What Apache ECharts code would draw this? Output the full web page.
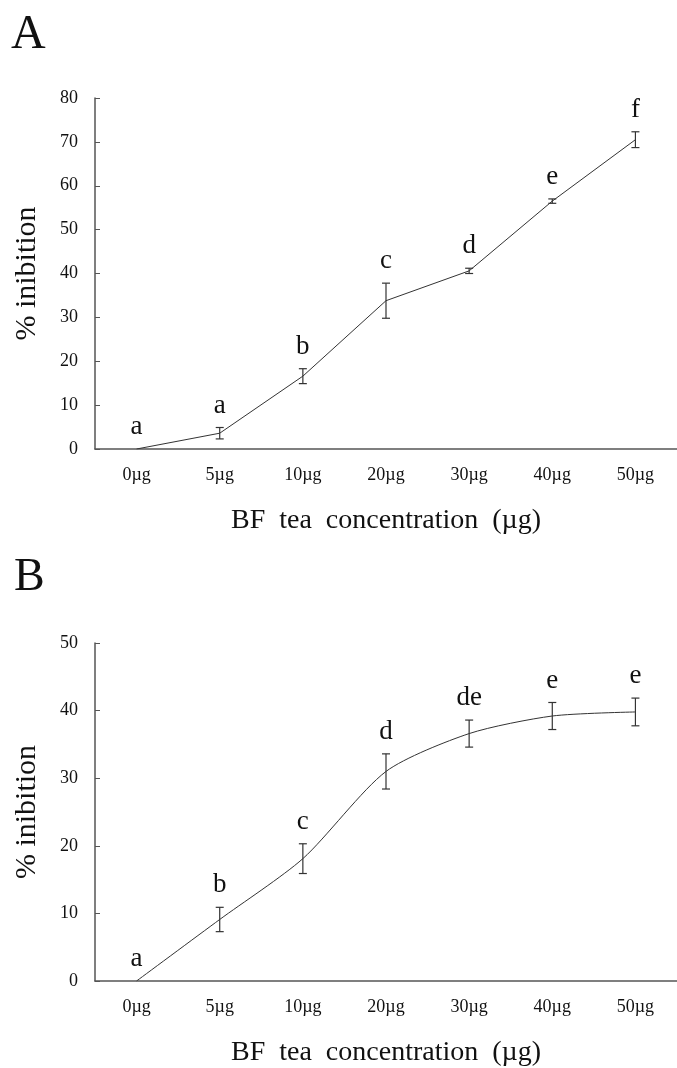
<!DOCTYPE html>
<html>
<head>
<meta charset="utf-8">
<script src="https://cdn.jsdelivr.net/npm/echarts@6/dist/echarts.min.js"></script>
<style>
  html, body { margin: 0; padding: 0; background: #fff; }
  #chart { width: 677px; height: 1068px; }
</style>
</head>
<body>
<div id="chart"></div>
<script>
const categories = ['0µg', '5µg', '10µg', '20µg', '30µg', '40µg', '50µg']

// panel A
const valuesA = [0, 3.6, 16.6, 33.8, 40.6, 56.5, 70.5]
const errA = [0, 1.3, 1.7, 4.0, 0.6, 0.5, 1.8]
const lettersA = ['a', 'a', 'b', 'c', 'd', 'e', 'f']

// panel B
const valuesB = [0, 9.1, 18.1, 31.0, 36.6, 39.2, 39.8]
const errB = [0, 1.8, 2.2, 2.6, 2.0, 2.0, 2.05]
const lettersB = ['a', 'b', 'c', 'd', 'de', 'e', 'e']

const font = '"Liberation Serif", "Times New Roman", serif'
const axisColor = '#555'

const chart = echarts.init(document.getElementById('chart'))

function errorSeries(idx, values, err, letters) {
    return {
        type: 'custom',
        xAxisIndex: idx,
        yAxisIndex: idx,
        z: 5,
        data: values.map((v, i) => [i, v, err[i]]),
        renderItem: (params, api) => {
            const i = api.value(0)
            const v = api.value(1)
            const e = api.value(2)
            const top = api.coord([i, v + e])
            const bot = api.coord([i, v - e])
            const children = []
            if (e > 0) {
                children.push(
                    { type: 'line', shape: { x1: top[0], y1: top[1], x2: bot[0], y2: bot[1] }, style: { stroke: '#333', lineWidth: 1.2 } },
                    { type: 'line', shape: { x1: top[0] - 4, y1: top[1], x2: top[0] + 4, y2: top[1] }, style: { stroke: '#333', lineWidth: 1.2 } },
                    { type: 'line', shape: { x1: bot[0] - 4, y1: bot[1], x2: bot[0] + 4, y2: bot[1] }, style: { stroke: '#333', lineWidth: 1.2 } }
                )
            }
            children.push({
                type: 'text',
                x: top[0],
                y: top[1] - 22,
                style: {
                    text: letters[params.dataIndex],
                    fill: '#111',
                    font: '27px ' + font,
                    align: 'center',
                    verticalAlign: 'middle'
                }
            })
            return { type: 'group', children }
        }
    }
}

function xAxisFor(idx) {
    return {
        type: 'category',
        gridIndex: idx,
        data: categories,
        name: 'BF  tea  concentration  (µg)',
        nameLocation: 'middle',
        nameGap: 58,
        nameTextStyle: { fontFamily: font, fontSize: 28, color: '#111' },
        axisLine: { lineStyle: { color: axisColor, width: 1.5 } },
        axisTick: { inside: true, alignWithLabel: true, length: 7, lineStyle: { color: axisColor } },
        axisLabel: { fontFamily: font, fontSize: 18, color: '#111', margin: 17 },
        splitLine: { show: false }
    }
}

function yAxisFor(idx, max) {
    return {
        type: 'value',
        gridIndex: idx,
        min: 0,
        max: max,
        interval: 10,
        name: '% inibition',
        nameLocation: 'middle',
        nameGap: 53,
        nameTextStyle: { fontFamily: font, fontSize: 30, color: '#111' },
        axisLine: { show: true, lineStyle: { color: axisColor, width: 1.5 } },
        axisTick: { show: true, inside: true, length: 5, lineStyle: { color: axisColor } },
        axisLabel: { fontFamily: font, fontSize: 18, color: '#111', margin: 17 },
        splitLine: { show: false }
    }
}

chart.setOption({
    animation: false,
    backgroundColor: '#fff',
    title: [
        { text: 'A', left: 6, top: 6, textStyle: { fontFamily: font, fontSize: 48, fontWeight: 'normal', color: '#111' } },
        { text: 'B', left: 9, top: 550, textStyle: { fontFamily: font, fontSize: 46, fontWeight: 'normal', color: '#111' } }
    ],
    grid: [
        { left: 95, top: 98, width: 586, height: 351 },
        { left: 95, top: 643, width: 593, height: 339 }
    ],
    xAxis: [xAxisFor(0), xAxisFor(1)],
    yAxis: [yAxisFor(0, 80), yAxisFor(1, 50)],
    series: [
        {
            type: 'line',
            xAxisIndex: 0,
            yAxisIndex: 0,
            data: valuesA,
            symbol: 'none',
            lineStyle: { color: '#333', width: 1 }
        },
        errorSeries(0, valuesA, errA, lettersA),
        {
            type: 'line',
            xAxisIndex: 1,
            yAxisIndex: 1,
            data: valuesB,
            symbol: 'none',
            smooth: 0.25,
            lineStyle: { color: '#333', width: 1 }
        },
        errorSeries(1, valuesB, errB, lettersB)
    ]
})
</script>
</body>
</html>
